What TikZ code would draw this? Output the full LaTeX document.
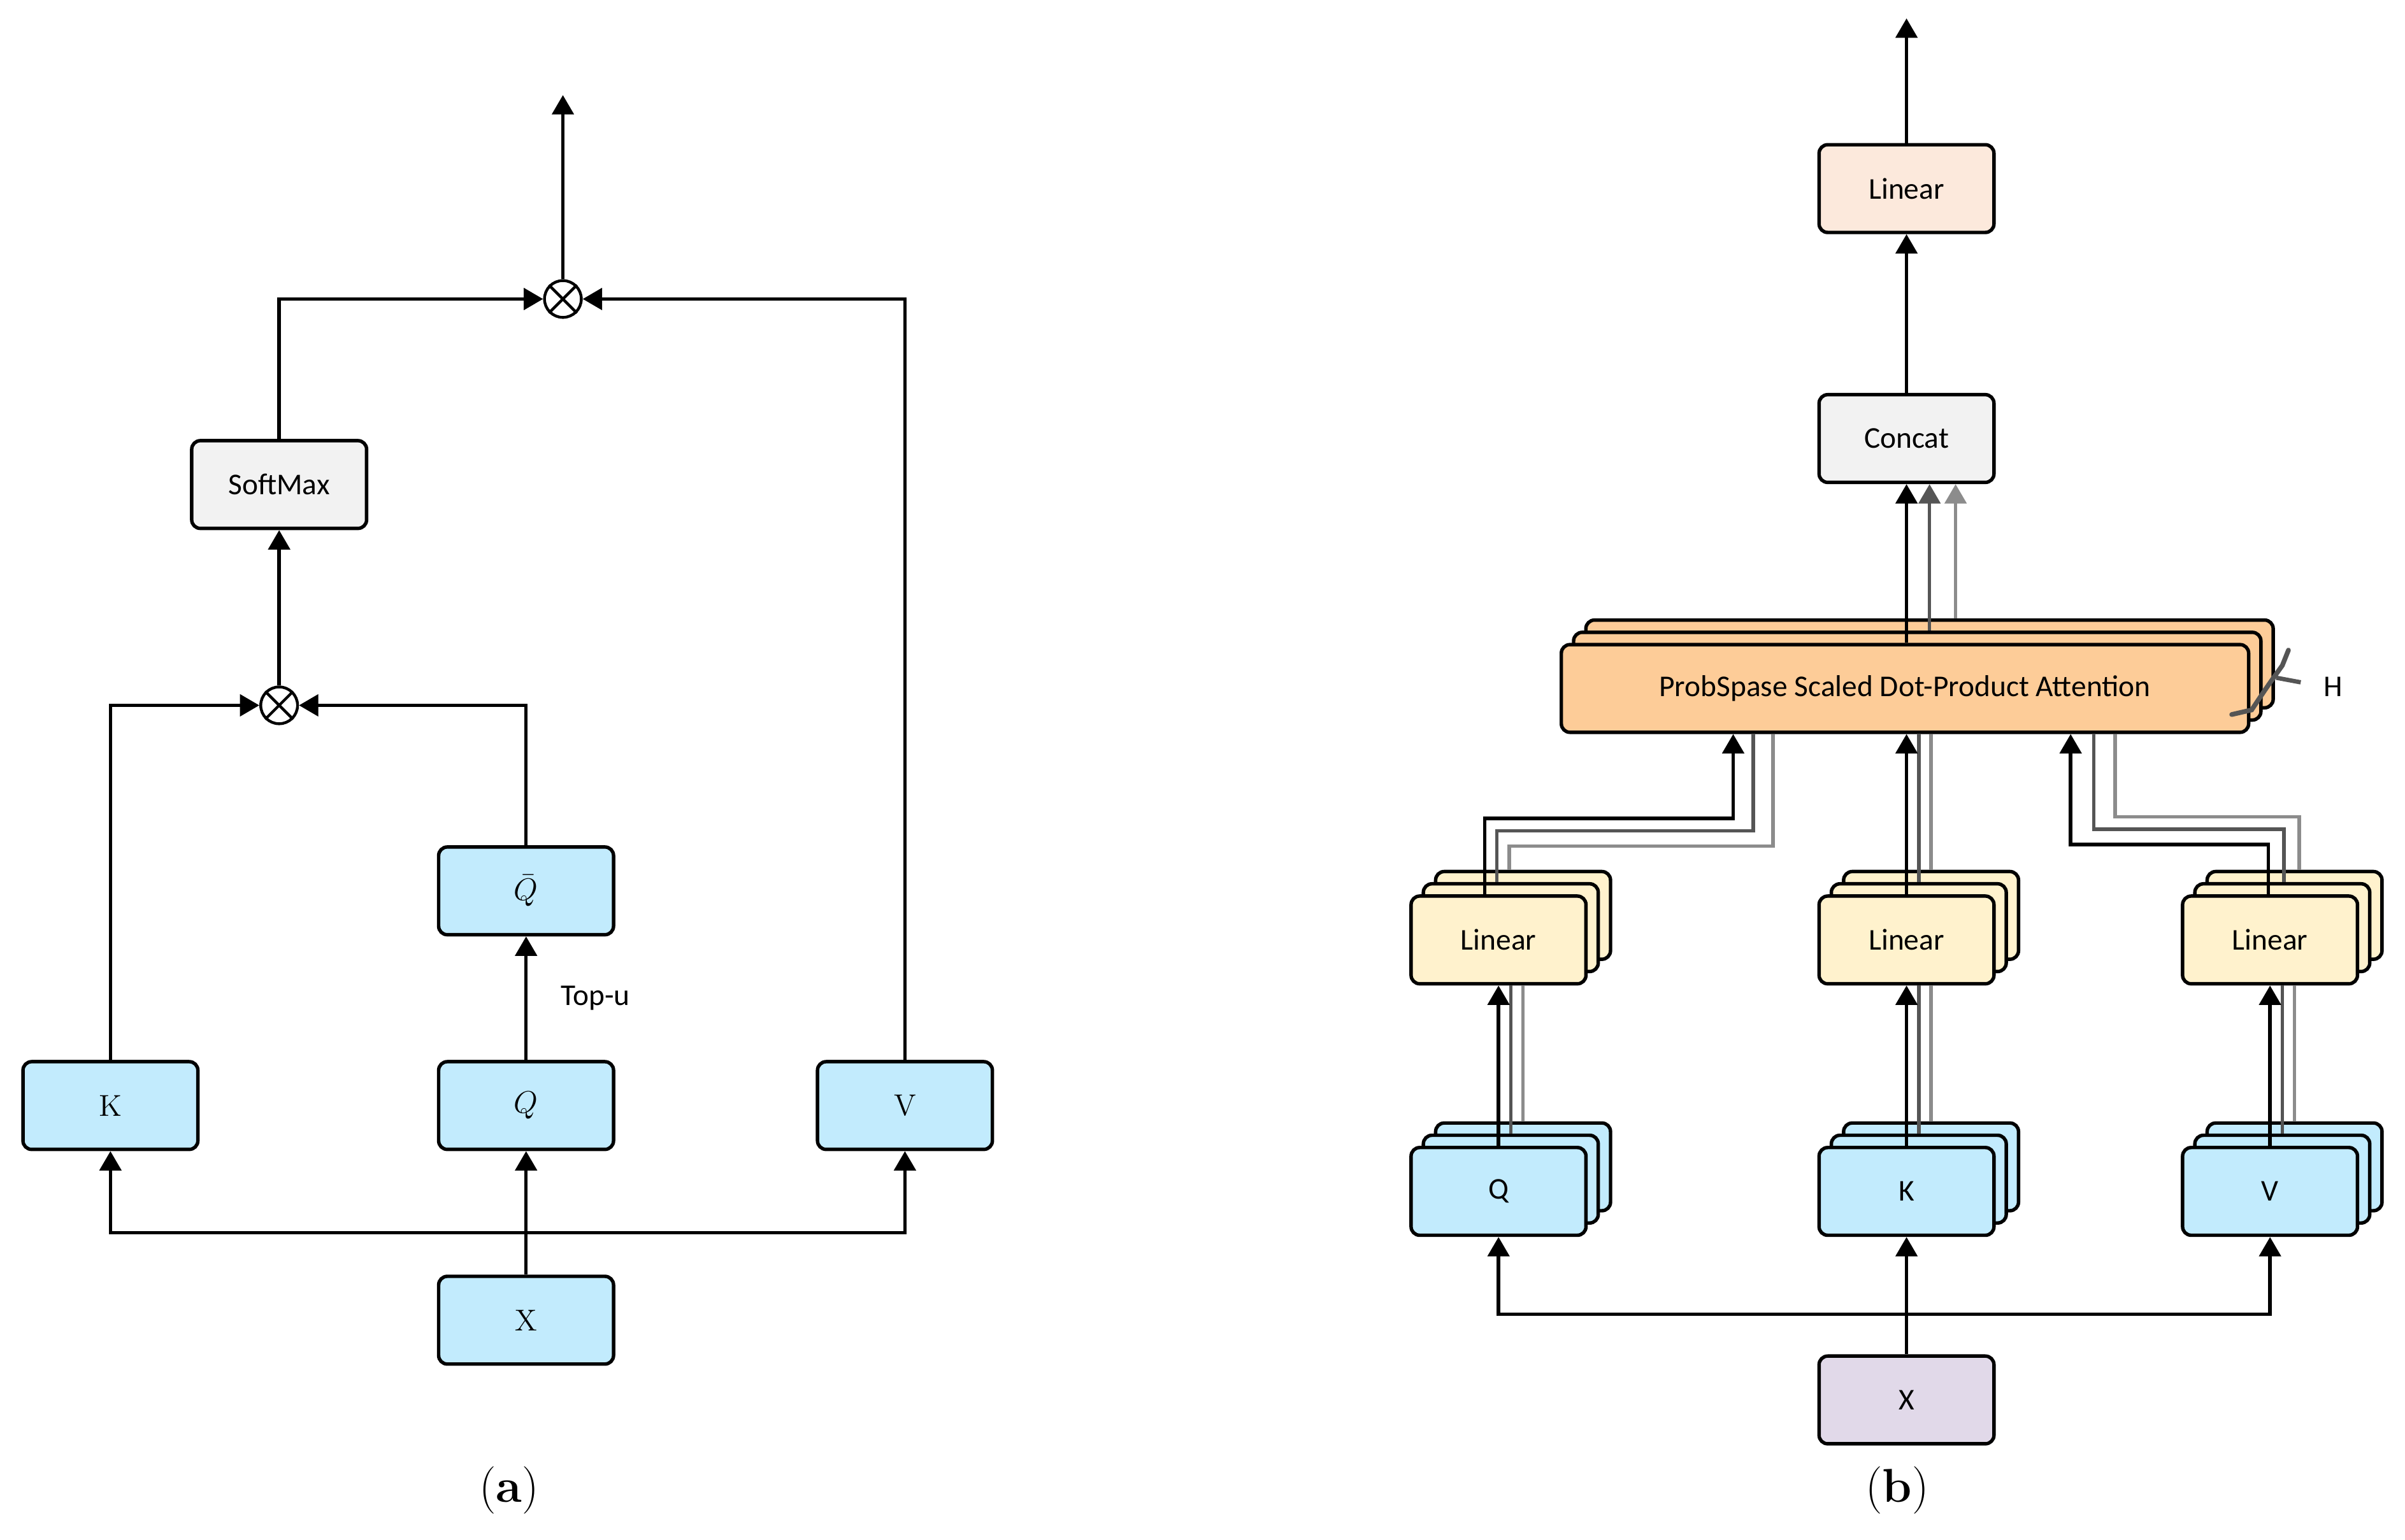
\documentclass[tikz,border=0pt]{standalone}
\usepackage{fontspec}
\setmainfont{Carlito}
\newfontfamily\serifm{Latin Modern Roman}
\usetikzlibrary{arrows.meta,calc,positioning}
\definecolor{qkvblue}{HTML}{C2EBFD}
\definecolor{softgray}{HTML}{F2F2F2}
\definecolor{attorange}{HTML}{FDCC98}
\definecolor{linyellow}{HTML}{FFF2CD}
\definecolor{linpeach}{HTML}{FCE9DC}
\definecolor{xlilac}{HTML}{E1D9E9}
\definecolor{headdark}{HTML}{555555}
\definecolor{headlight}{HTML}{8C8C8C}
\tikzset{
  blk/.style={draw=black, line width=1.6pt, rounded corners=4pt, minimum width=2.85cm,
    minimum height=1.43cm, inner sep=0pt, font=\fontsize{14}{16}\selectfont},
  wire/.style={line width=1.6pt},
  ar/.style={wire, -{Triangle[width=10pt,length=9pt]}},
  prod/.style={draw=black, line width=1.3pt, circle, minimum size=0.6cm, inner sep=0pt},
}
% stack of three boxes: name, x, y, fill, text
\newcommand{\stackbox}[6][2.85cm]{%
  \node[blk, fill=#5, minimum width=#1] (#2-2) at (#3+16,#4-16) {};
  \node[blk, fill=#5, minimum width=#1] (#2-1) at (#3+8,#4-8) {};
  \node[blk, fill=#5, minimum width=#1] (#2) at (#3,#4) {#6};}
\begin{document}
\begin{tikzpicture}[x=0.025cm, y=-0.025cm]
	\useasboundingbox (0,0) rectangle (1568,1004);
	% (a)
	\node[blk, fill=qkvblue] (ka) at (72,721) {\serifm K};
	\node[blk, fill=qkvblue] (qa) at (343,721) {$Q$};
	\node[blk, fill=qkvblue] (va) at (590,721) {\serifm V};
	\node[blk, fill=qkvblue] (xa) at (343,861) {\serifm X};
	\node[blk, fill=qkvblue] (qbar) at (343,581) {$\bar{Q}$};
	\node[blk, fill=softgray] (soft) at (182,316) {SoftMax};
	\node[prod] (mul1) at (182,460) {};
	\node[prod] (mul2) at (367,195) {};
	\foreach \m in {mul1,mul2}{
	  \draw[line width=1.3pt] (\m.north west) -- (\m.south east) (\m.north east) -- (\m.south west);}
	\coordinate (outa) at (367,62);
	\coordinate (split) at (343,804);
	\draw[ar] (xa) -- (qa);
	\draw[ar] (split) -| (ka.south);
	\draw[ar] (split) -| (va.south);
	\draw[ar] (qa) -- node[right=12pt, font=\fontsize{14}{16}\selectfont] {Top-u} (qbar);
	\draw[ar] (ka.north) |- (mul1.west);
	\draw[ar] (qbar.north) |- (mul1.east);
	\draw[ar] (mul1) -- (soft);
	\draw[ar] (soft.north) |- (mul2.west);
	\draw[ar] (va.north) |- (mul2.east);
	\draw[ar] (mul2) -- (outa);
	\node[font=\serifm\fontsize{22}{24}\selectfont] (cap-a) at (332,972) {(\textbf{a})};
	% (b)
	\node[blk, fill=xlilac] (xb) at (1243,913) {X};
	\stackbox{qb}{977}{777}{qkvblue}{Q}
	\stackbox{kb}{1243}{777}{qkvblue}{K}
	\stackbox{vb}{1480}{777}{qkvblue}{V}
	\stackbox{lq}{977}{613}{linyellow}{Linear}
	\stackbox{lk}{1243}{613}{linyellow}{Linear}
	\stackbox{lv}{1480}{613}{linyellow}{Linear}
	\stackbox[11.2cm]{att}{1242}{449}{attorange}{ProbSpase Scaled Dot-Product Attention}
	\node[blk, fill=softgray] (concat) at (1243,286) {Concat};
	\node[blk, fill=linpeach] (lout) at (1243,123) {Linear};
	\coordinate (outb) at (1243,12);
	\coordinate (splitb) at (1243,857);
	\draw[ar] (xb) -- (kb);
	\draw[ar] (splitb) -| (qb.south);
	\draw[ar] (splitb) -| (vb.south);
	% heads: input projections
	\foreach \s/\l in {qb/lq,kb/lk,vb/lv}{
	  \draw[wire, headlight] (\s-2.north -| \s-1.north) ++(8,0) -- ($(\l.south)+(16,0)$);
	  \draw[wire, headdark] (\s-1.north) -- (\s-1.north |- \l.south);
	  \draw[ar] (\s) -- (\l);}
	% heads: into attention
	\draw[wire, headlight] ($(lq-2.north)+(-9,0)$) |- ($(att.south)+(-86,73)$) -- ($(att.south)+(-86,0)$);
	\draw[wire, headdark] ($(lq-1.north)+(-9,0)$) |- ($(att.south)+(-99,63)$) -- ($(att.south)+(-99,0)$);
	\draw[ar] ($(lq.north)+(-9,0)$) |- ($(att.south)+(-112,55)$) -- ($(att.south)+(-112,0)$);
	\draw[wire, headlight] (lk-2.north) -- (lk-2.north |- att.south);
	\draw[wire, headdark] (lk-1.north) -- (lk-1.north |- att.south);
	\draw[ar] (lk.north) -- (lk.north |- att.south);
	\draw[wire, headlight] ($(lv-2.north)+(3,0)$) |- ($(att.south)+(137,54)$) -- ($(att.south)+(137,0)$);
	\draw[wire, headdark] ($(lv-1.north)+(1,0)$) |- ($(att.south)+(123,62)$) -- ($(att.south)+(123,0)$);
	\draw[ar] ($(lv.north)+(-1,0)$) |- ($(att.south)+(108,72)$) -- ($(att.south)+(108,0)$);
	% heads: into concat
	\draw[ar, headlight] ($(att-2.north)+(17,0)$) -- ($(concat.south)+(32,0)$);
	\draw[ar, headdark] ($(att-1.north)+(8,0)$) -- ($(concat.south)+(15,0)$);
	\draw[ar] (att.north -| concat.south) -- (concat.south);
	\draw[ar] (concat) -- (lout);
	\draw[ar] (lout) -- (outb);
	% H brace
	\draw[headdark, line width=2.2pt, line cap=round] (1455,466) -- (1468,463) .. controls (1478,448) .. (1488,434) -- (1492,424);
	\draw[headdark, line width=2pt] (1484,442) -- (1500,445);
	\node[font=\fontsize{14}{16}\selectfont] (hlab) at (1521,448) {H};
	\node[font=\serifm\fontsize{22}{24}\selectfont] (cap-b) at (1237,972) {(\textbf{b})};
\end{tikzpicture}
\end{document}
